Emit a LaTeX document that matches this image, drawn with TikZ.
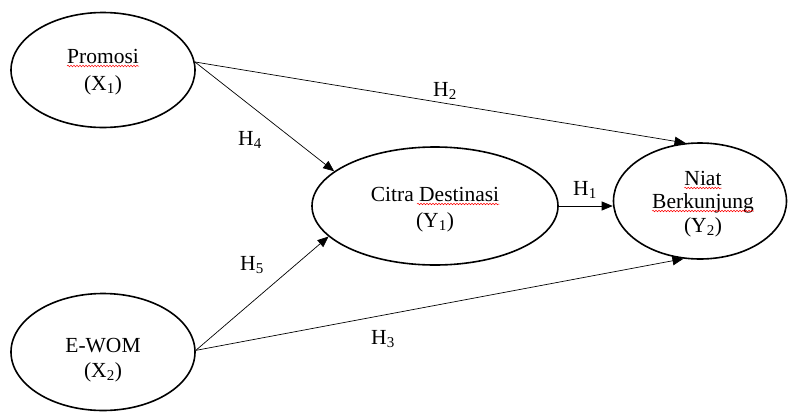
\documentclass[tikz,border=0pt]{standalone}
\usepackage{fontspec}
\setmainfont{Liberation Serif}
\usetikzlibrary{shapes.geometric,arrows.meta,decorations.pathmorphing}
\tikzset{
  var/.style={ellipse,draw,line width=1.6pt,inner sep=0pt},
  txt/.style={anchor=base,inner sep=0pt,font=\fontsize{21.5}{26}\selectfont},
  path/.style={line width=0.7pt,-{Triangle[length=11pt,width=9pt]}},
  wave/.style={red,line width=0.5pt,decorate,decoration={snake,amplitude=0.8pt,segment length=3pt}}
}
\begin{document}
\begin{tikzpicture}[x=1pt,y=-1pt]
\useasboundingbox (0,0) rectangle (788,413);
% ellipses
\node[var,minimum width=184pt,minimum height=115pt] (P) at (103,70) {};
\node[var,minimum width=184pt,minimum height=117pt] (E) at (103,352) {};
\node[var,minimum width=246pt,minimum height=118pt] (C) at (435,206) {};
\node[var,minimum width=173pt,minimum height=116pt] (N) at (700,201) {};
% texts
\node[txt] (p1) at (103,63) {Promosi};
\node[txt] (p2) at (103,90) {(X\textsubscript{1})};
\node[txt] (e1) at (103,352) {E-WOM};
\node[txt] (e2) at (103,377) {(X\textsubscript{2})};
\node[txt] (c1) at (435,201) {Citra Destinasi};
\node[txt] (c2) at (435,227) {(Y\textsubscript{1})};
\node[txt] (n1) at (703,185) {Niat};
\node[txt] (n2) at (703,208) {Berkunjung};
\node[txt] (n3) at (703,232) {(Y\textsubscript{2})};
% spell-check underlines
\draw[wave] ([yshift=-3pt]p1.base west) -- ([yshift=-3pt]p1.base east);
\coordinate (dstart) at (417,201);
\draw[wave] ([yshift=-3pt]dstart) -- ([yshift=-3pt]c1.base east);
\draw[wave] ([yshift=-3pt]n1.base west) -- ([yshift=-3pt]n1.base east);
\draw[wave] ([yshift=-3pt]n2.base west) -- ([yshift=-3pt]n2.base east);
% paths
\draw[path] (P.5) -- (N.104);
\draw[path] (P.5) -- (C.161);
\draw[path] (E.1) -- (C.196);
\draw[path] (E.1) -- (N.254);
\draw[path] (C.east) -- (C.east -| N.west);
% labels
\node[txt] (h2) at (445,96) {H\textsubscript{2}};
\node[txt] (h4) at (250,145) {H\textsubscript{4}};
\node[txt] (h5) at (252,270) {H\textsubscript{5}};
\node[txt] (h3) at (383,344) {H\textsubscript{3}};
\node[txt] (h1) at (585,195) {H\textsubscript{1}};
\end{tikzpicture}
\end{document}
